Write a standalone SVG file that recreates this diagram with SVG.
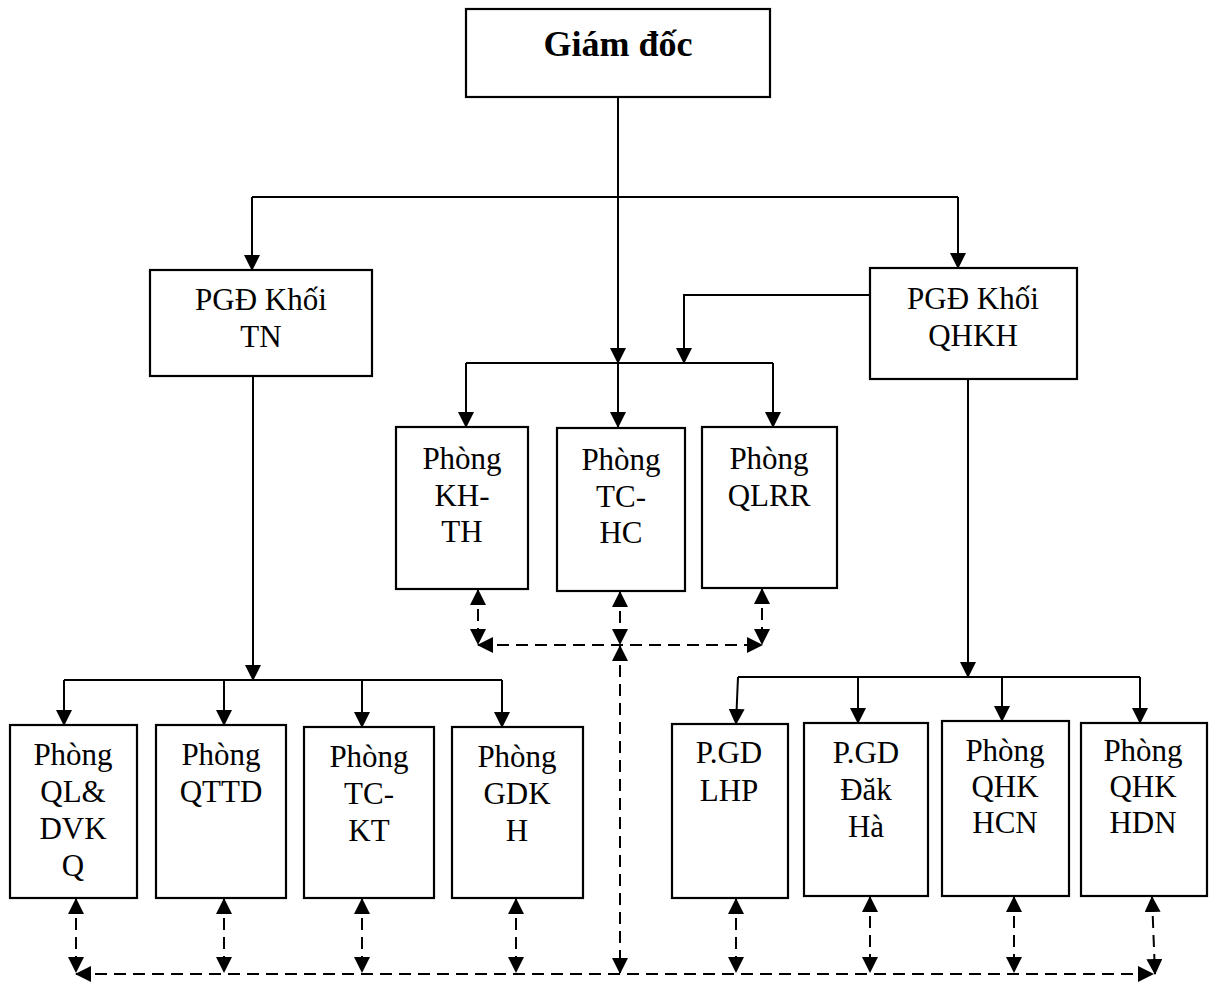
<svg xmlns="http://www.w3.org/2000/svg" width="1209" height="982" viewBox="0 0 1209 982">
<style>
.box{fill:#fff;stroke:#000;stroke-width:2.2}
.t{font-family:'Liberation Serif','DejaVu Serif',serif;font-size:31px;fill:#000;text-anchor:middle}
.tb{font-family:'Liberation Serif','DejaVu Serif',serif;font-size:36px;font-weight:bold;fill:#000;text-anchor:middle}
.s{fill:none;stroke:#000;stroke-width:2}
.d{fill:none;stroke:#000;stroke-width:2;stroke-dasharray:12 7}
</style>
<defs>
<marker id="a" viewBox="0 0 16 16" refX="15" refY="8" markerWidth="16" markerHeight="16" markerUnits="userSpaceOnUse" orient="auto-start-reverse">
<path d="M0,0 L16,8 L0,16 Z" fill="#000" stroke="none"/>
</marker>
</defs>
<rect x="0" y="0" width="1209" height="982" fill="#fff"/>
<g id="connectors">
<g class="solid">
<path class="s" d="M618,97 V363" marker-end="url(#a)"/>
<path class="s" d="M618,363 V427" marker-end="url(#a)"/>
<path class="s" d="M252,197 H958"/>
<path class="s" d="M252,197 V270" marker-end="url(#a)"/>
<path class="s" d="M958,197 V268" marker-end="url(#a)"/>
<path class="s" d="M870,295 H684 V363" marker-end="url(#a)"/>
<path class="s" d="M466,363 H773"/>
<path class="s" d="M466,363 V427" marker-end="url(#a)"/>
<path class="s" d="M773,363 V427" marker-end="url(#a)"/>
<path class="s" d="M253,376 V680" marker-end="url(#a)"/>
<path class="s" d="M64,680 H502"/>
<path class="s" d="M64,680 V725" marker-end="url(#a)"/>
<path class="s" d="M224,680 V725" marker-end="url(#a)"/>
<path class="s" d="M362,680 V727" marker-end="url(#a)"/>
<path class="s" d="M502,680 V727" marker-end="url(#a)"/>
<path class="s" d="M968,379 V677" marker-end="url(#a)"/>
<path class="s" d="M738,677 H1140"/>
<path class="s" d="M738,677 L736,724" marker-end="url(#a)"/>
<path class="s" d="M858,677 V723" marker-end="url(#a)"/>
<path class="s" d="M1002,677 V721" marker-end="url(#a)"/>
<path class="s" d="M1140,677 V723" marker-end="url(#a)"/>
</g>
<g class="dashed">
<path class="d" d="M478,590 V644" marker-start="url(#a)" marker-end="url(#a)"/>
<path class="d" d="M620,592 V644" marker-start="url(#a)" marker-end="url(#a)"/>
<path class="d" d="M762,589 V644" marker-start="url(#a)" marker-end="url(#a)"/>
<path class="d" d="M478,645 H762" marker-start="url(#a)" marker-end="url(#a)"/>
<path class="d" d="M620,646 V973" marker-start="url(#a)" marker-end="url(#a)"/>
<path class="d" d="M76,974 H1153" marker-start="url(#a)" marker-end="url(#a)"/>
<path class="d" d="M76,899 V972" marker-start="url(#a)" marker-end="url(#a)"/>
<path class="d" d="M224,899 V972" marker-start="url(#a)" marker-end="url(#a)"/>
<path class="d" d="M362,899 V972" marker-start="url(#a)" marker-end="url(#a)"/>
<path class="d" d="M516,899 V972" marker-start="url(#a)" marker-end="url(#a)"/>
<path class="d" d="M736,899 V972" marker-start="url(#a)" marker-end="url(#a)"/>
<path class="d" d="M870,897 V972" marker-start="url(#a)" marker-end="url(#a)"/>
<path class="d" d="M1014,897 V972" marker-start="url(#a)" marker-end="url(#a)"/>
<path class="d" d="M1152,897 L1155,974" marker-start="url(#a)" marker-end="url(#a)"/>
</g>
</g>
<g font-family="Liberation Serif, DejaVu Serif, serif">
<g id="giam-doc"><rect class="box" x="466" y="9" width="304" height="88"/><text class="tb" x="618" y="56">Giám đốc</text></g>
<g id="pgd-tn"><rect class="box" x="150" y="270" width="222" height="106"/><text class="t" x="261" y="310">PGĐ Khối</text><text class="t" x="261" y="347">TN</text></g>
<g id="pgd-qhkh"><rect class="box" x="870" y="268" width="207" height="111"/><text class="t" x="973" y="309">PGĐ Khối</text><text class="t" x="973" y="346">QHKH</text></g>
<g id="p-khth"><rect class="box" x="396" y="427" width="132" height="162"/><text class="t" x="462" y="469">Phòng</text><text class="t" x="462" y="506">KH-</text><text class="t" x="462" y="542">TH</text></g>
<g id="p-tchc"><rect class="box" x="557" y="428" width="128" height="163"/><text class="t" x="621" y="470">Phòng</text><text class="t" x="621" y="507">TC-</text><text class="t" x="621" y="543">HC</text></g>
<g id="p-qlrr"><rect class="box" x="702" y="427" width="135" height="161"/><text class="t" x="769" y="469">Phòng</text><text class="t" x="769" y="506">QLRR</text></g>
<g id="p-qldvkq"><rect class="box" x="10" y="725" width="127" height="173"/><text class="t" x="73" y="765">Phòng</text><text class="t" x="73" y="802">QL&amp;</text><text class="t" x="73" y="839">DVK</text><text class="t" x="73" y="876">Q</text></g>
<g id="p-qttd"><rect class="box" x="156" y="725" width="130" height="173"/><text class="t" x="221" y="765">Phòng</text><text class="t" x="221" y="802">QTTD</text></g>
<g id="p-tckt"><rect class="box" x="304" y="727" width="130" height="171"/><text class="t" x="369" y="767">Phòng</text><text class="t" x="369" y="804">TC-</text><text class="t" x="369" y="841">KT</text></g>
<g id="p-gdkh"><rect class="box" x="452" y="727" width="131" height="171"/><text class="t" x="517" y="767">Phòng</text><text class="t" x="517" y="804">GDK</text><text class="t" x="517" y="841">H</text></g>
<g id="p-lhp"><rect class="box" x="672" y="724" width="116" height="174"/><text class="t" x="729" y="763">P.GD</text><text class="t" x="729" y="801">LHP</text></g>
<g id="p-dakha"><rect class="box" x="804" y="723" width="124" height="173"/><text class="t" x="866" y="763">P.GD</text><text class="t" x="866" y="800">Đăk</text><text class="t" x="866" y="837">Hà</text></g>
<g id="p-qhkhcn"><rect class="box" x="942" y="721" width="127" height="175"/><text class="t" x="1005" y="761">Phòng</text><text class="t" x="1005" y="797">QHK</text><text class="t" x="1005" y="833">HCN</text></g>
<g id="p-qhkhdn"><rect class="box" x="1081" y="723" width="126" height="173"/><text class="t" x="1143" y="761">Phòng</text><text class="t" x="1143" y="797">QHK</text><text class="t" x="1143" y="833">HDN</text></g>
</g>
</svg>
